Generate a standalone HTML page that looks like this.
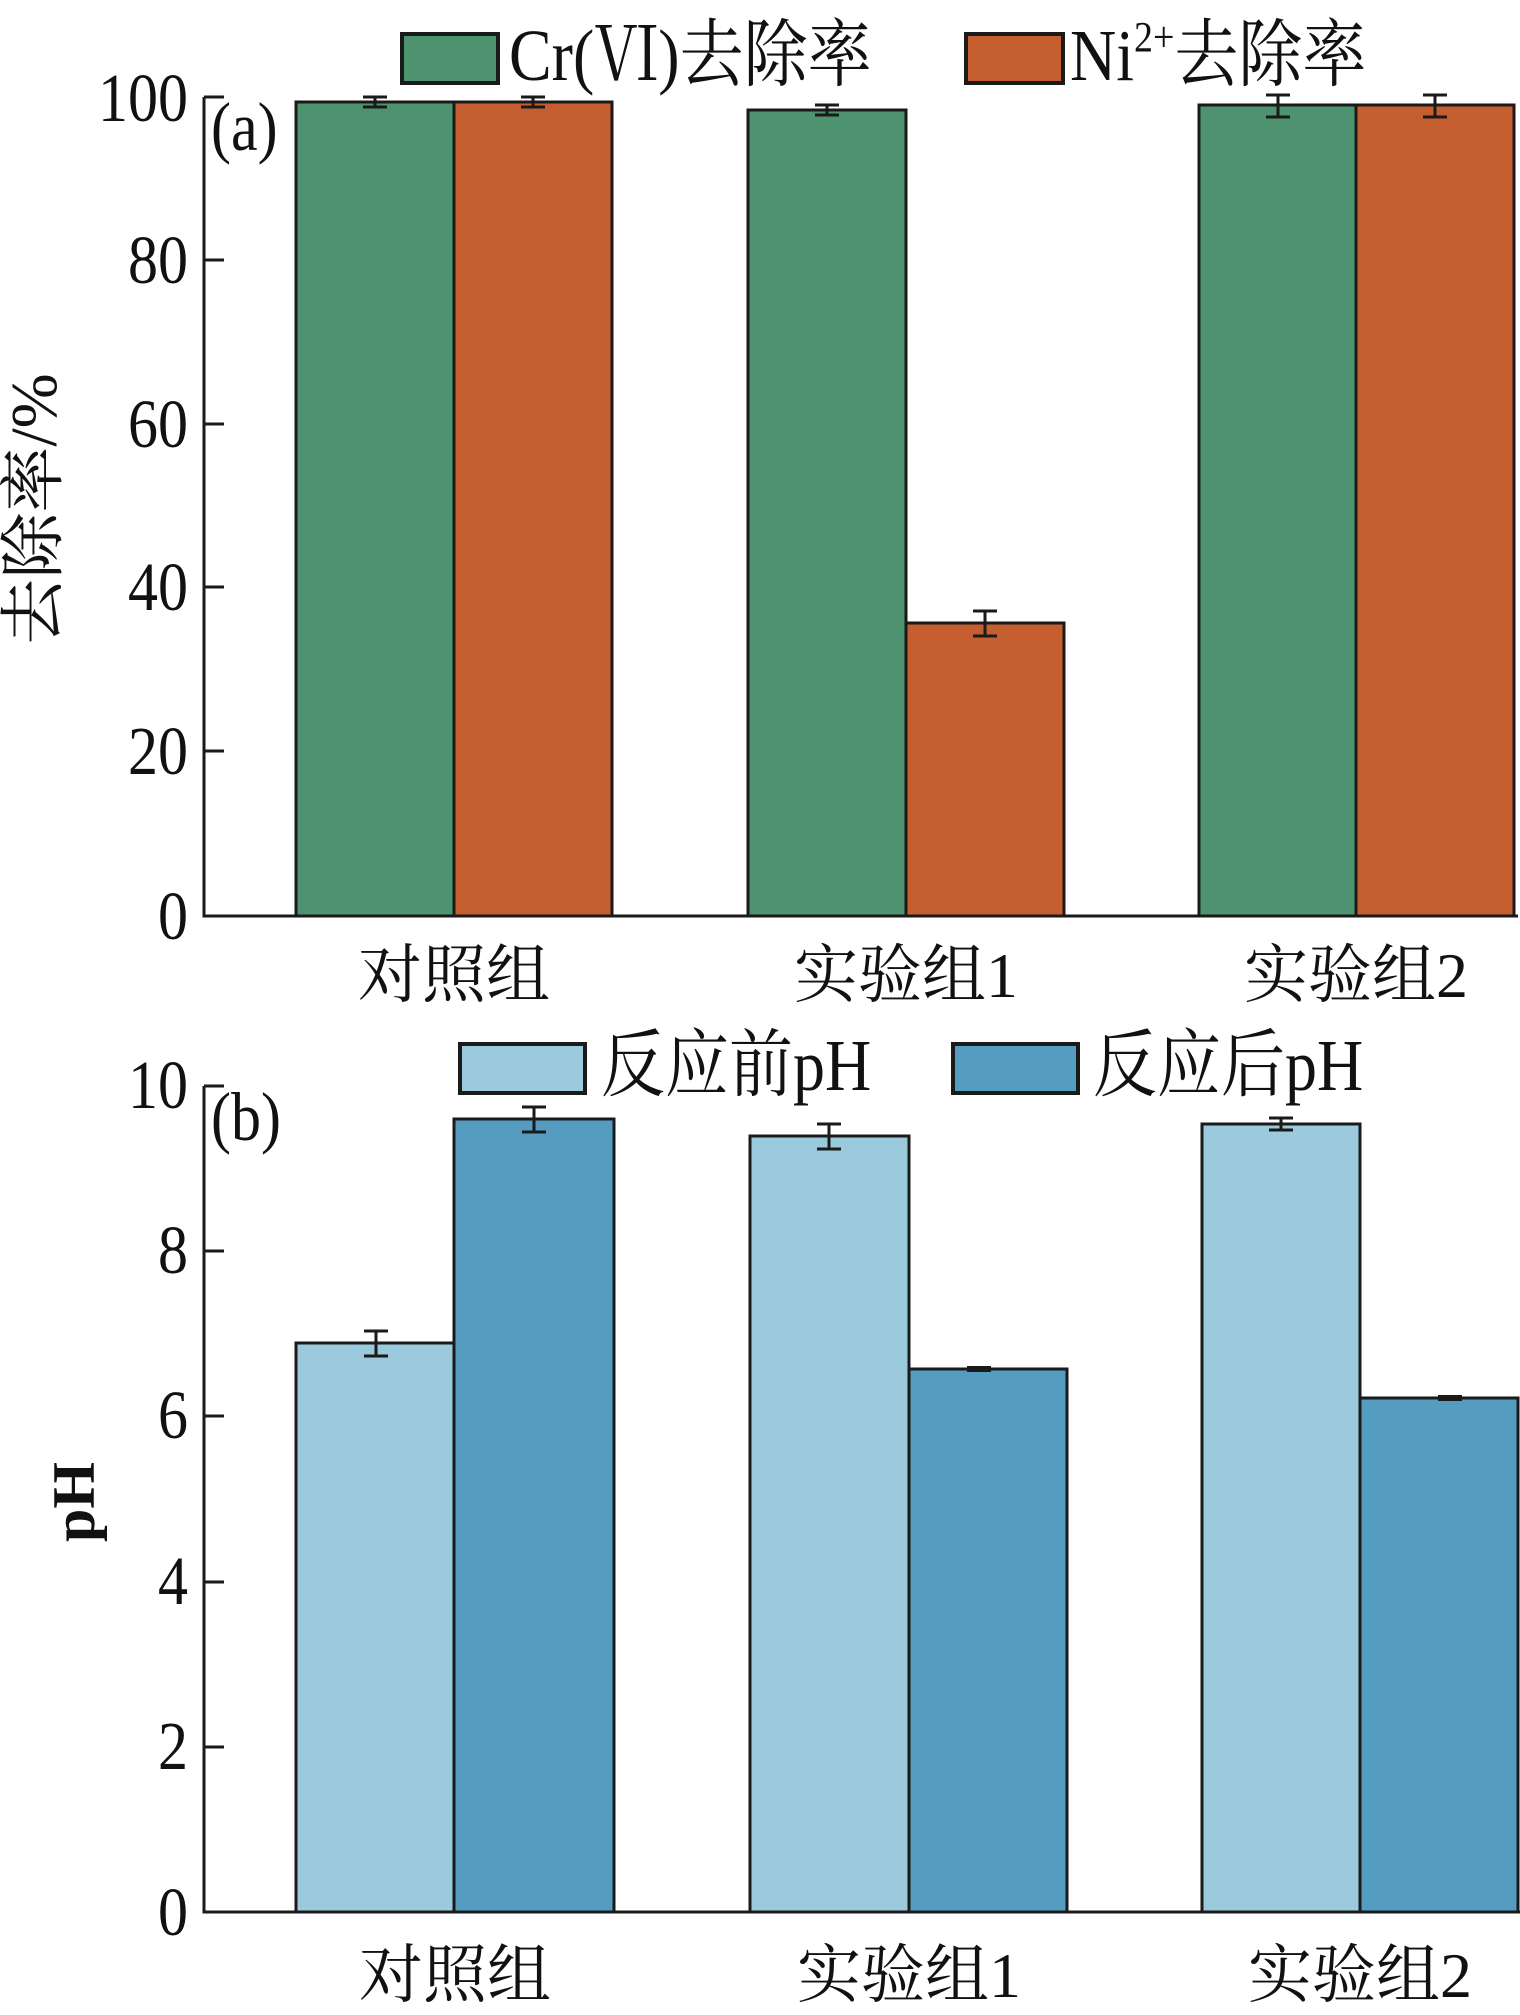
<!DOCTYPE html>
<html><head><meta charset="utf-8"><style>
html,body{margin:0;padding:0;background:#fff;}
svg{display:block;}
text{font-family:"Liberation Serif","Noto Serif CJK SC",serif;fill:#111;}
</style></head><body>
<svg width="1520" height="2015" viewBox="0 0 1520 2015" xmlns="http://www.w3.org/2000/svg">
<!-- ===== Chart (a) ===== -->
<g stroke="#1a1a1a" stroke-width="3">
<rect x="296" y="102" width="158" height="814" fill="#4e9370"/>
<rect x="454" y="102" width="158" height="814" fill="#c55f30"/>
<rect x="748" y="110" width="158" height="806" fill="#4e9370"/>
<rect x="906" y="623" width="158" height="293" fill="#c55f30"/>
<rect x="1199" y="105" width="157" height="811" fill="#4e9370"/>
<rect x="1356" y="105" width="158" height="811" fill="#c55f30"/>
</g>
<g stroke="#1a1a1a" stroke-width="3" fill="none">
<path d="M375 97v10M363 97h24M363 107h24"/>
<path d="M533 97v10M521 97h24M521 107h24"/>
<path d="M827 105v10M815 105h24M815 115h24"/>
<path d="M985 611v25M973 611h24M973 636h24"/>
<path d="M1278 95v22M1266 95h24M1266 117h24"/>
<path d="M1435 95v22M1423 95h24M1423 117h24"/>
<path d="M204 97V916H1518"/>
<path d="M204 97h20M204 260h20M204 424h20M204 587h20M204 751h20"/>
</g>
<g font-size="60" text-anchor="end">
<text transform="translate(188,121) scale(1,1.15)">100</text>
<text transform="translate(188,283) scale(1,1.15)">80</text>
<text transform="translate(188,447) scale(1,1.15)">60</text>
<text transform="translate(188,610) scale(1,1.15)">40</text>
<text transform="translate(188,774) scale(1,1.15)">20</text>
<text transform="translate(188,939) scale(1,1.15)">0</text>
</g>
<text transform="translate(211,150) scale(1,1.15)" font-size="60">(a)</text>
<text transform="translate(56,509) rotate(-90)" font-size="66" text-anchor="middle">去除率/%</text>
<rect x="402" y="34" width="96" height="49" fill="#4e9370" stroke="#1a1a1a" stroke-width="4"/>
<text transform="translate(509,80) scale(1,1.15)" font-size="64">Cr(Ⅵ)去除率</text>
<rect x="966" y="34" width="97" height="49" fill="#c55f30" stroke="#1a1a1a" stroke-width="4"/>
<text transform="translate(1070,80) scale(1,1.15)" font-size="64">Ni<tspan font-size="38" dy="-25">2+</tspan><tspan dy="25">去除率</tspan></text>
<g font-size="64" text-anchor="middle">
<text x="454" y="997">对照组</text>
<text x="906" y="997">实验组1</text>
<text x="1356" y="997">实验组2</text>
</g>
<!-- ===== Chart (b) ===== -->
<g stroke="#1a1a1a" stroke-width="3">
<rect x="296" y="1343" width="158" height="569" fill="#9bcadc"/>
<rect x="454" y="1119" width="160" height="793" fill="#549dc0"/>
<rect x="750" y="1136" width="159" height="776" fill="#9bcadc"/>
<rect x="909" y="1369" width="158" height="543" fill="#549dc0"/>
<rect x="1202" y="1124" width="158" height="788" fill="#9bcadc"/>
<rect x="1360" y="1398" width="158" height="514" fill="#549dc0"/>
</g>
<g stroke="#1a1a1a" stroke-width="3" fill="none">
<path d="M376 1331v25M364 1331h24M364 1356h24"/>
<path d="M534 1107v25M522 1107h24M522 1132h24"/>
<path d="M829 1124v25M817 1124h24M817 1149h24"/>
<path d="M979 1367v4M967 1369h24" stroke-width="6"/>
<path d="M1281 1118v12M1269 1118h24M1269 1130h24"/>
<path d="M1438 1398h24" stroke-width="6"/>
<path d="M204 1086V1912H1520"/>
<path d="M204 1086h20M204 1251h20M204 1416h20M204 1582h20M204 1747h20"/>
</g>
<g font-size="60" text-anchor="end">
<text transform="translate(188,1108) scale(1,1.15)">10</text>
<text transform="translate(188,1273) scale(1,1.15)">8</text>
<text transform="translate(188,1438) scale(1,1.15)">6</text>
<text transform="translate(188,1604) scale(1,1.15)">4</text>
<text transform="translate(188,1769) scale(1,1.15)">2</text>
<text transform="translate(188,1935) scale(1,1.15)">0</text>
</g>
<text transform="translate(211,1140) scale(1,1.15)" font-size="60">(b)</text>
<text transform="translate(94,1502) rotate(-90)" font-size="60" font-weight="bold" text-anchor="middle">pH</text>
<rect x="460" y="1044" width="125" height="49" fill="#9bcadc" stroke="#1a1a1a" stroke-width="4"/>
<text transform="translate(601,1090) scale(1,1.15)" font-size="64">反应前pH</text>
<rect x="953" y="1044" width="125" height="49" fill="#549dc0" stroke="#1a1a1a" stroke-width="4"/>
<text transform="translate(1093,1090) scale(1,1.15)" font-size="64">反应后pH</text>
<g font-size="64" text-anchor="middle">
<text x="455" y="1997">对照组</text>
<text x="909" y="1997">实验组1</text>
<text x="1360" y="1997">实验组2</text>
</g>
</svg>
</body></html>
